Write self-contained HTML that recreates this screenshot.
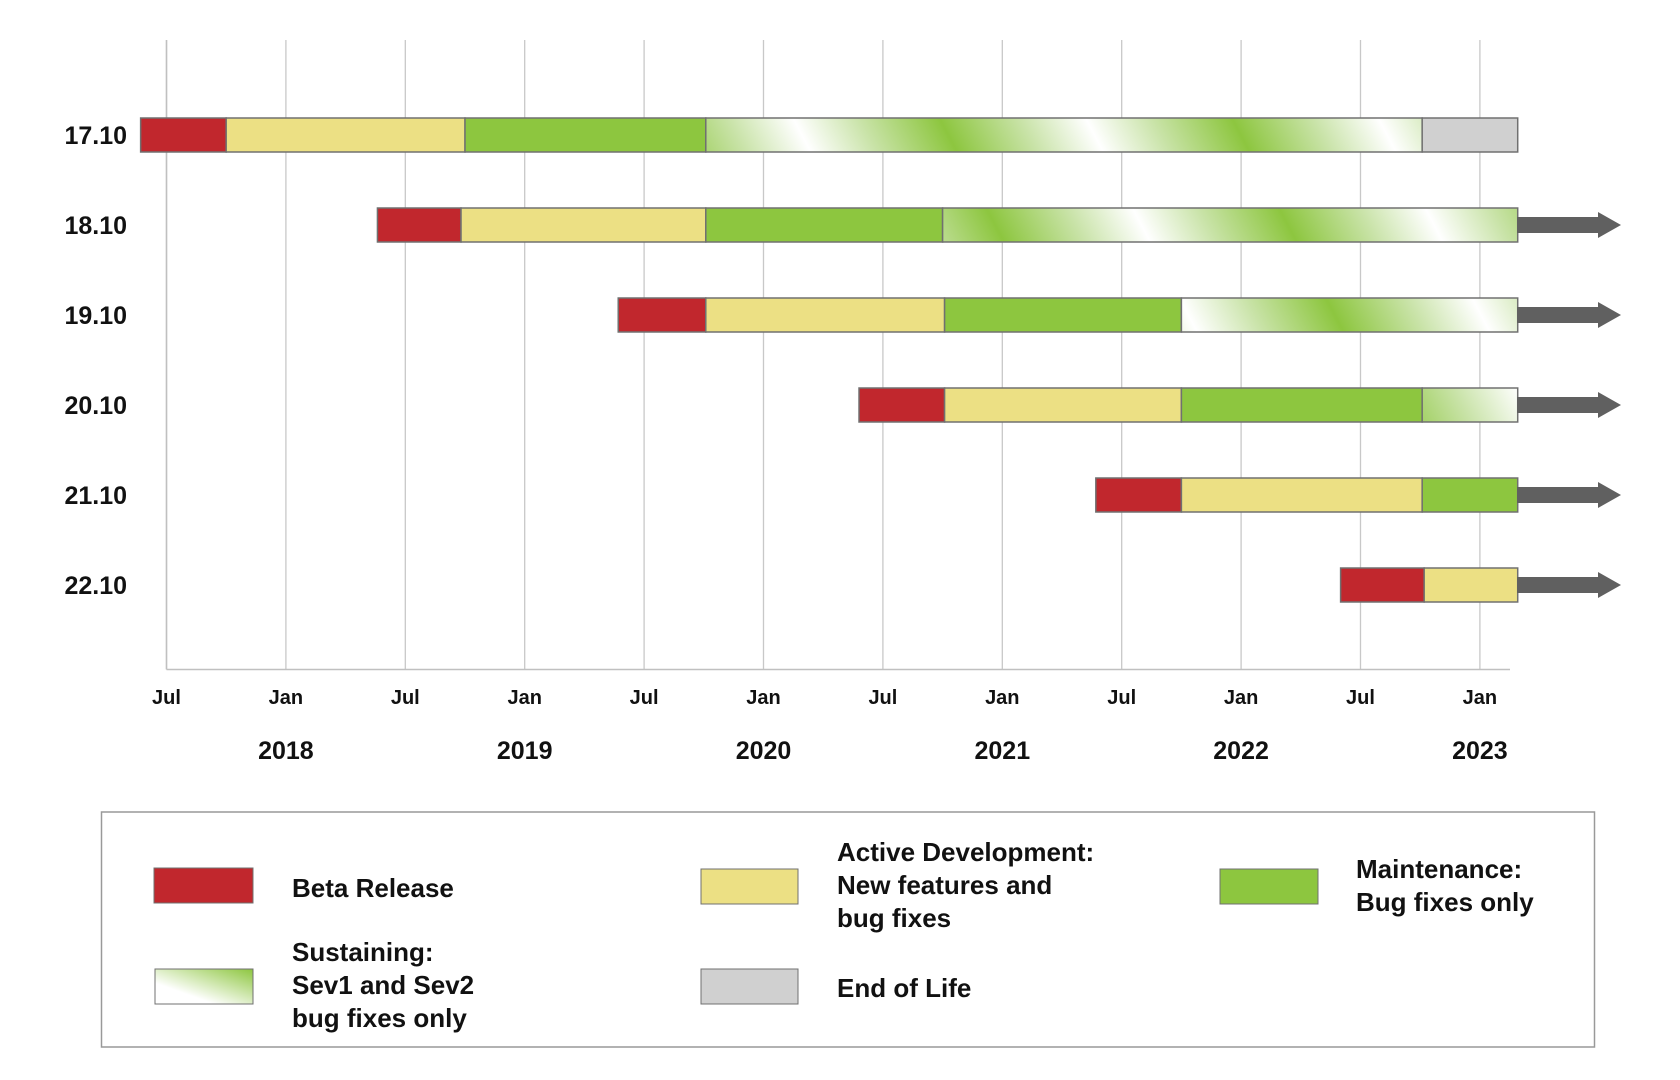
<!DOCTYPE html>
<html><head><meta charset="utf-8"><style>
html,body{margin:0;padding:0;background:#fff;width:1680px;height:1080px;overflow:hidden}
svg text{font-family:"Liberation Sans",sans-serif;font-weight:bold;fill:#111}
</style></head><body>
<svg id="chart" width="1680" height="1080" viewBox="0 0 1680 1080" xmlns="http://www.w3.org/2000/svg">
<defs>
<linearGradient id="sust" gradientUnits="userSpaceOnUse" x1="0" y1="0" x2="115" y2="-60" spreadMethod="reflect">
<stop offset="0" stop-color="#8dc63f"/><stop offset="0.55" stop-color="#c9e3a8"/><stop offset="1" stop-color="#ffffff"/>
</linearGradient>
<linearGradient id="sustLeg" x1="0" y1="1" x2="1" y2="0">
<stop offset="0" stop-color="#ffffff"/><stop offset="0.3" stop-color="#ffffff"/><stop offset="1" stop-color="#8dc63f"/>
</linearGradient>
</defs>
<g id="grid"></g><g id="bars"></g><g id="labels"></g>
<g>
<rect x="101.5" y="812" width="1493" height="235" fill="#fff" stroke="#999" stroke-width="1.5"/>
<rect x="154" y="868" width="99" height="35" fill="#c1272d" stroke="#707070"/>
<text x="292" y="897" font-size="26">Beta Release</text>
<rect x="701" y="869" width="97" height="35" fill="#ece084" stroke="#707070"/>
<text x="837" y="861" font-size="26"><tspan x="837">Active Development:</tspan><tspan x="837" dy="33">New features and</tspan><tspan x="837" dy="33">bug fixes</tspan></text>
<rect x="1220" y="869" width="98" height="35" fill="#8dc63f" stroke="#707070"/>
<text x="1356" y="878" font-size="26"><tspan x="1356">Maintenance:</tspan><tspan x="1356" dy="33">Bug fixes only</tspan></text>
<rect x="155" y="969" width="98" height="35" fill="url(#sustLeg)" stroke="#707070"/>
<text x="292" y="961" font-size="26"><tspan x="292">Sustaining:</tspan><tspan x="292" dy="33">Sev1 and Sev2</tspan><tspan x="292" dy="33">bug fixes only</tspan></text>
<rect x="701" y="969" width="97" height="35" fill="#d0d0d0" stroke="#707070"/>
<text x="837" y="997" font-size="26">End of Life</text>
</g>
</svg>
<script>
// months since Jul 2017
const releases = ["17.10","18.10","19.10","20.10","21.10","22.10"];
const betaStart = [-1.3, 10.6, 22.7, 34.8, 46.7, 59.0];
const activeStart = [3.0, 14.8, 27.1, 39.1, 51.0, 63.2];
const maintStart = [15.0, 27.1, 39.1, 51.0, 63.1, null];
const sustStart = [27.1, 39.0, 51.0, 63.1, null, null];
const eolStart = [63.1, null, null, null, null, null];
const endMonth = 67.9;
const continues = [false, true, true, true, true, true];
const tickLabels = ["Jul","Jan","Jul","Jan","Jul","Jan","Jul","Jan","Jul","Jan","Jul","Jan"];
const yearLabels = ["2018","2019","2020","2021","2022","2023"];

const NS="http://www.w3.org/2000/svg";
const x0=166.5, pxPerMonth=19.9, rowY0=135, rowStep=90, barH=34;
const xs=m=>x0+m*pxPerMonth;
const ys=i=>rowY0+i*rowStep;
function mk(tag,attrs,parent){const e=document.createElementNS(NS,tag);for(const k in attrs)e.setAttribute(k,attrs[k]);parent.appendChild(e);return e;}
const grid=document.getElementById('grid'),bars=document.getElementById('bars'),labels=document.getElementById('labels');
tickLabels.forEach((t,i)=>{
  const x=xs(i*6);
  const l=mk('line',{x1:x,y1:40,x2:x,y2:669,stroke:'#c8c8c8','stroke-width':1.3},grid);
  
  
  const tx=mk('text',{x:x,y:704,'text-anchor':'middle','font-size':20},labels);
  tx.textContent=t;
  
  
});
const ax=mk('line',{x1:x0,y1:669.5,x2:1510,y2:669.5,stroke:'#c0c0c0','stroke-width':1.5},grid);


const yl=mk('line',{x1:x0,y1:40,x2:x0,y2:669.5,stroke:'#c0c0c0','stroke-width':1.5},grid);


yearLabels.forEach((y,i)=>{
  const t=mk('text',{x:xs(6+i*12),y:759,'text-anchor':'middle','font-size':25},labels);
  t.textContent=y;
  
  
});
releases.forEach((r,i)=>{
  const cy=ys(i);
  const t=mk('text',{x:127,y:cy+9,'text-anchor':'end','font-size':25},labels);
  t.textContent=r;
  
  
  const segs=[[betaStart[i],'#c1272d','beta'],[activeStart[i],'#ece084','active'],[maintStart[i],'#8dc63f','maintenance'],[sustStart[i],'url(#sust)','sustaining'],[eolStart[i],'#d0d0d0','eol']].filter(s=>s[0]!==null);
  segs.forEach((s,j)=>{
    const end=j+1<segs.length?segs[j+1][0]:endMonth;
    const rc=mk('rect',{x:xs(s[0]),y:cy-barH/2,width:xs(end)-xs(s[0]),height:barH,fill:s[1],stroke:'#707070','stroke-width':1.5},bars);
    
    
  });
  if(continues[i]){
    const ar=mk('polygon',{points:`1517,${cy-8} 1598,${cy-8} 1598,${cy-13} 1621,${cy} 1598,${cy+13} 1598,${cy+8} 1517,${cy+8}`,fill:'#606060'},bars);
    
    
  }
});
</script>
</body></html>
